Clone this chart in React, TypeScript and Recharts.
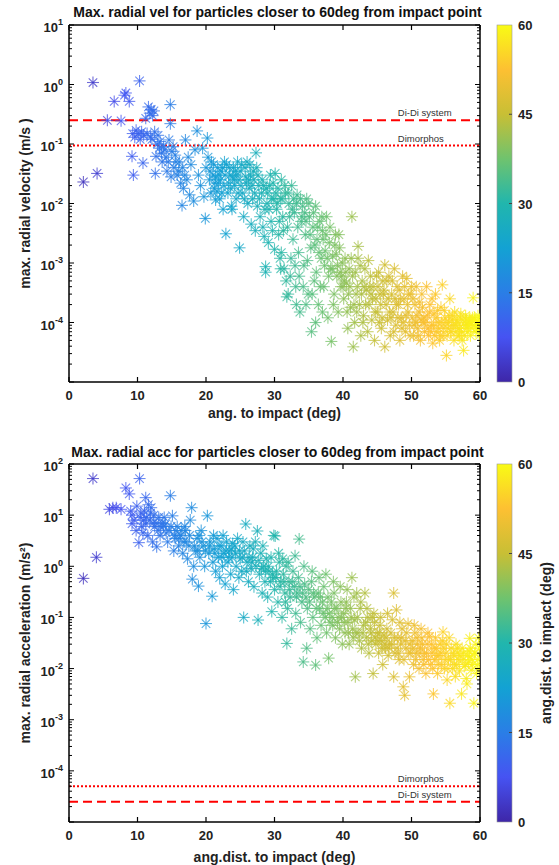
import React from 'react';
import { ScatterChart, Scatter, XAxis, YAxis, ReferenceLine } from 'recharts';

const FONT = '"Liberation Sans", Arial, Helvetica, sans-serif';

// ---------- data ----------
const X_TICKS = [0, 10, 20, 30, 40, 50, 60];
const COLORBAR_TICKS = [0, 15, 30, 45, 60];
const VEL_DECADES = [-5, -4, -3, -2, -1, 0, 1];
const VEL_LABELED = [-4, -3, -2, -1, 0, 1];
const ACC_DECADES = [-5, -4, -3, -2, -1, 0, 1, 2];
const ACC_LABELED = [-4, -3, -2, -1, 0, 1, 2];

const VEL_REFS = [
  { name: 'Di-Di system', value: 0.25, dash: '9 5' },
  { name: 'Dimorphos', value: 0.094, dash: '2 2' },
];
const ACC_REFS = [
  { name: 'Dimorphos', value: 5.0e-5, dash: '2 2' },
  { name: 'Di-Di system', value: 2.5e-5, dash: '9 5' },
];

const VEL_DATA: [number, number][] = [
  [2.1, 0.023], [3.5, 1.08], [4.1, 0.032], [5.6, 0.25], [6.6, 0.52], [7.6, 0.245], [8.1, 0.66], [8.3, 0.72], [8.8, 0.52], [9.2, 0.062], [9.4, 0.03], [9.3, 0.15], [9.6, 0.13], [9.8, 0.17],
  [10.3, 1.15], [10.8, 0.048], [10.1, 0.15], [10.4, 0.12], [10.6, 0.16], [10.9, 0.14], [11.2, 0.27], [11.4, 0.15], [11.6, 0.42], [11.8, 0.33], [12.0, 0.38], [12.2, 0.3], [12.4, 0.36], [11.9, 0.13], [12.1, 0.12], [12.5, 0.16], [12.6, 0.032], [12.7, 0.062], [12.9, 0.1], [13.2, 0.085], [13.0, 0.14], [13.5, 0.07], [13.8, 0.09],
  [14.8, 0.46], [14.8, 0.22], [14.6, 0.117], [14.2, 0.06], [14.5, 0.05], [15.0, 0.075], [15.3, 0.04], [15.6, 0.05], [15.8, 0.03], [16.0, 0.035], [16.3, 0.022], [16.5, 0.0093], [16.7, 0.018], [17.0, 0.117], [17.2, 0.025], [17.4, 0.06], [17.6, 0.014], [17.8, 0.045],
  [18.2, 0.011], [18.4, 0.08], [18.7, 0.166], [18.9, 0.03], [19.2, 0.02], [19.5, 0.085], [19.7, 0.013], [19.9, 0.0056], [20.2, 0.126], [20.0, 0.04],
  [20.5, 0.025], [20.8, 0.05], [21.0, 0.03], [21.2, 0.018], [21.4, 0.028], [21.4, 0.0115], [21.6, 0.016], [21.8, 0.022], [22.0, 0.012], [22.2, 0.035], [22.4, 0.04], [22.6, 0.02], [22.9, 0.0031], [23.0, 0.045], [23.2, 0.015], [23.5, 0.03], [23.8, 0.008], [24.0, 0.04], [24.2, 0.02], [24.4, 0.012], [24.6, 0.05], [24.9, 0.0018], [24.8, 0.025], [25.0, 0.035], [23.7, 0.009], [22.5, 0.008],
  [25.3, 0.015], [25.5, 0.006], [25.7, 0.04], [25.9, 0.022], [26.1, 0.01], [26.3, 0.018], [26.5, 0.03], [26.6, 0.0045], [26.8, 0.012], [27.0, 0.025], [27.3, 0.071], [27.2, 0.0035], [27.5, 0.009], [27.7, 0.02], [27.9, 0.006], [28.1, 0.015], [28.3, 0.004], [28.5, 0.0028], [28.7, 8.7e-4], [28.7, 7e-4], [28.9, 0.01], [29.1, 0.0022], [29.3, 0.02], [29.5, 0.005], [29.7, 0.0035], [29.9, 0.012], [30.1, 0.032], [30.0, 0.0017],
  [30.3, 0.008], [30.5, 0.018], [30.6, 0.003], [30.8, 0.0012], [31.0, 0.025], [31.2, 0.006], [31.4, 0.0008], [31.6, 0.015], [31.8, 2.7e-4], [31.9, 0.004], [32.1, 0.01], [32.3, 0.0006], [32.5, 0.02], [32.7, 0.0025], [32.9, 0.007], [33.1, 0.0004], [33.3, 0.014], [33.5, 0.0015], [33.7, 1.5e-4], [33.9, 0.005], [34.1, 0.009], [34.3, 0.0009], [34.5, 0.003], [34.7, 0.012], [34.9, 3e-4],
  [35.1, 0.006], [35.3, 0.0018], [35.4, 7e-5], [35.6, 0.004], [35.8, 0.0005], [36.0, 0.009], [36.2, 0.0025], [36.4, 2e-4], [36.6, 0.005], [36.8, 0.0012], [37.0, 0.0035], [37.2, 4e-4], [37.4, 0.0016], [37.6, 0.006], [37.8, 1.2e-4], [38.0, 0.0022], [38.3, 4.8e-5], [38.2, 8e-4], [38.5, 0.0013], [38.7, 3e-4], [38.9, 0.003], [39.1, 6e-4], [39.3, 1.5e-4], [39.5, 0.0018], [39.7, 4e-4], [39.9, 0.001],
  [40.1, 2.5e-4], [40.3, 0.0012], [40.5, 4.6e-4], [40.7, 8e-5], [40.9, 0.0008], [41.1, 1.8e-4], [41.3, 0.006], [41.5, 3.9e-5], [41.4, 6e-4], [41.7, 1e-4], [41.9, 3e-4], [42.2, 0.0019], [42.2, 0.0012], [42.4, 2e-4], [42.6, 6e-5], [42.8, 5e-4], [43.0, 1.3e-4], [43.2, 8e-4], [43.4, 3.5e-4], [43.6, 7e-5], [43.8, 2e-4], [44.0, 6e-4], [44.2, 1.1e-4], [44.4, 4e-4], [44.6, 5e-5], [44.8, 2.5e-4],
  [45.0, 1.5e-4], [45.2, 7e-4], [45.4, 3e-4], [45.6, 8e-5], [45.8, 5e-4], [46.1, 9.3e-4], [46.1, 3.9e-5], [46.3, 2e-4], [46.5, 1.1e-4], [46.7, 6e-4], [46.9, 6e-5], [47.1, 3e-4], [47.3, 1.5e-4], [47.5, 8e-4], [47.7, 9e-5], [47.9, 4e-4], [48.1, 2e-4], [48.3, 5e-5], [48.5, 1.2e-4], [48.7, 6e-4], [48.9, 2.5e-4], [49.1, 7e-5], [49.3, 5.5e-4], [49.5, 1.5e-4], [49.7, 9e-5], [49.9, 3e-4],
  [50.1, 1.2e-4], [50.3, 6e-5], [50.5, 2e-4], [50.7, 4e-4], [50.9, 8e-5], [51.1, 1.5e-4], [51.3, 5e-5], [51.5, 3e-4], [51.7, 1e-4], [51.9, 7e-5], [52.2, 4e-4], [52.3, 1.3e-4], [52.5, 6e-5], [52.7, 2e-4], [52.9, 9e-5], [53.1, 4.5e-5], [53.3, 1.4e-4], [53.5, 3e-4], [53.7, 7e-5], [53.9, 1e-4], [54.1, 5e-5], [54.3, 1.8e-4], [54.5, 4.3e-4], [54.7, 8e-5], [54.9, 1.2e-4],
  [55.1, 2.8e-5], [55.2, 6e-5], [55.4, 1e-4], [55.6, 2.5e-4], [55.8, 7e-5], [56.0, 1.3e-4], [56.2, 5e-5], [56.4, 9e-5], [56.6, 1.1e-4], [56.8, 6e-5], [57.0, 8e-5], [57.2, 1.4e-4], [57.4, 5e-5], [57.6, 3.4e-5], [57.8, 9e-5], [58.0, 1.1e-4], [58.2, 7e-5], [58.4, 1e-4], [58.6, 6e-5], [58.8, 8e-5], [59.0, 2.6e-4], [59.2, 1.2e-4], [59.4, 7e-5], [59.6, 9e-5], [59.8, 1e-4], [59.9, 6e-5],
  [13.3, 0.11], [13.6, 0.05], [14.0, 0.08], [14.3, 0.035], [14.9, 0.028], [15.2, 0.09], [15.5, 0.065], [16.1, 0.05], [16.6, 0.04], [16.9, 0.03],
  [20.3, 0.06], [20.7, 0.015], [21.1, 0.045], [21.7, 0.04], [22.1, 0.025], [22.7, 0.05], [23.3, 0.022], [23.9, 0.028], [24.3, 0.035], [24.7, 0.015], [25.2, 0.045], [25.8, 0.028], [26.4, 0.045], [26.9, 0.035], [27.6, 0.03], [28.2, 0.025], [28.8, 0.018], [29.4, 0.03], [29.8, 0.022], [26.0, 0.05],
  [30.2, 0.015], [30.9, 0.012], [31.5, 0.02], [32.0, 0.015], [32.6, 0.008], [33.2, 0.01], [33.8, 0.012], [34.4, 0.007], [35.0, 0.01], [35.7, 0.007], [36.3, 0.004], [36.9, 0.006], [37.5, 0.003], [38.1, 0.004], [38.8, 0.002], [39.4, 0.003],
  [31.0, 0.0015], [31.7, 0.0005], [32.4, 0.0012], [33.0, 0.0009], [33.6, 0.0006], [34.2, 0.0004], [34.8, 0.0011], [35.5, 0.0003], [36.1, 0.0007], [36.7, 0.0004], [37.3, 0.0009], [37.9, 0.0006], [38.6, 0.0002], [39.2, 0.0009], [39.8, 0.0006],
  [40.2, 5e-4], [40.8, 3e-4], [41.2, 0.0012], [41.8, 7e-4], [42.0, 1.5e-4], [42.5, 9e-4], [43.1, 4e-4], [43.7, 1.1e-3], [44.3, 2.5e-4], [44.9, 6e-4], [45.3, 1e-4], [45.9, 3e-4], [46.4, 5e-4], [47.0, 1.2e-4], [47.6, 2.5e-4], [48.2, 3.5e-4], [48.8, 1e-4], [49.4, 2e-4], [50.0, 4e-4], [50.6, 1e-4], [51.2, 2.2e-4], [51.8, 1.2e-4], [52.4, 8e-5], [53.0, 2.5e-4], [53.6, 1.2e-4], [54.2, 6e-5], [54.8, 1.6e-4], [55.3, 8e-5], [55.9, 1.1e-4], [56.5, 7e-5], [57.1, 1.2e-4], [57.7, 6e-5], [58.3, 9e-5], [58.9, 1.2e-4], [59.5, 8e-5], [59.95, 1.1e-4], [56.3, 1.5e-4], [57.9, 1.3e-4],
  [20.6, 0.035], [21.3, 0.022], [21.9, 0.03], [22.3, 0.015], [22.8, 0.03], [23.4, 0.04], [23.6, 0.018], [24.1, 0.025], [24.5, 0.03], [25.1, 0.02], [25.6, 0.012], [26.2, 0.025], [26.7, 0.02], [27.1, 0.015], [27.4, 0.04], [27.8, 0.012], [28.4, 0.02], [28.6, 0.008], [29.0, 0.015], [29.2, 0.008], [29.6, 0.012],
  [30.4, 0.01], [30.7, 0.005], [31.1, 0.012], [31.3, 0.0035], [32.2, 0.006], [32.8, 0.012], [33.4, 0.004], [34.0, 0.006], [34.6, 0.005], [35.2, 0.003], [35.9, 0.002], [36.5, 0.0015], [37.1, 0.0025], [37.7, 0.0012], [38.4, 0.0008], [39.0, 0.0014], [39.6, 0.0007], [30.9, 0.0008], [32.0, 0.0003], [33.2, 0.0002], [34.6, 0.0002], [36.0, 1e-4], [37.0, 1.5e-4],
  [40.0, 4e-4], [40.4, 7e-4], [40.6, 1.5e-4], [41.0, 4e-4], [41.6, 2e-4], [42.1, 4e-4], [42.7, 3e-4], [42.9, 1e-4], [43.3, 2e-4], [43.9, 4e-4], [44.1, 3e-4], [44.7, 1.5e-4], [45.1, 4e-4], [45.5, 2e-4], [45.7, 1.2e-4], [46.0, 3.5e-4], [46.6, 2.5e-4], [46.8, 1.5e-4], [47.2, 5e-4], [47.4, 7e-5], [47.8, 2e-4], [48.0, 1.2e-4], [48.4, 2.5e-4], [48.6, 8e-5], [49.0, 4e-4], [49.2, 1.3e-4], [49.6, 3e-4], [49.8, 6e-5],
  [50.2, 2.5e-4], [50.4, 9e-5], [50.8, 1.3e-4], [51.0, 6e-5], [51.4, 1.1e-4], [51.6, 1.8e-4], [52.0, 1e-4], [52.6, 1.5e-4], [52.8, 7e-5], [53.2, 9e-5], [53.4, 6e-5], [53.8, 1.6e-4], [54.0, 8e-5], [54.4, 1e-4], [54.6, 6e-5], [55.0, 1e-4], [55.5, 1.3e-4], [55.7, 7e-5], [56.1, 9e-5], [56.7, 1e-4], [56.9, 8e-5], [57.3, 7e-5], [57.5, 1.1e-4], [58.1, 8e-5], [58.5, 1.2e-4], [58.7, 1e-4], [59.1, 9e-5], [59.3, 1.1e-4], [59.7, 1.3e-4], [59.85, 8e-5], [57.0, 6e-5], [58.0, 9.5e-5],
];

const ACC_DATA: [number, number][] = [
  [2.1, 0.58], [3.5, 52], [4.0, 1.5], [5.9, 13], [6.4, 14], [6.9, 14], [7.6, 13], [8.3, 34], [8.8, 26], [9.0, 12], [9.2, 10], [9.2, 6.8], [9.5, 8], [9.8, 5], [9.9, 15],
  [10.2, 2.9], [10.3, 52], [10.4, 9], [10.6, 6], [10.8, 4.5], [11.0, 12], [11.2, 22], [11.2, 6.7], [11.5, 4], [11.6, 16], [11.8, 8], [12.0, 14], [12.2, 3], [12.4, 10], [12.5, 6], [12.8, 2.4], [13.0, 5], [13.3, 4], [13.6, 7], [13.8, 6], [14.1, 6.7], [14.4, 3], [14.8, 24], [14.6, 5],
  [15.1, 9.7], [15.3, 2], [15.5, 3.5], [15.8, 6], [16.0, 2.5], [16.3, 4], [16.6, 1.8], [16.8, 3], [17.0, 5], [17.3, 1.4], [17.5, 2.5], [17.9, 14], [17.7, 8], [18.0, 0.56], [18.2, 1], [18.5, 2], [18.7, 3.5], [18.9, 0.41], [19.1, 1.5], [19.3, 5], [19.6, 2.5], [19.8, 1], [20.0, 0.076], [20.2, 9.7],
  [20.4, 1.8], [20.6, 3], [20.9, 0.26], [21.0, 1.2], [21.2, 2.2], [21.4, 0.8], [21.6, 3.5], [21.8, 1.5], [22.0, 0.6], [22.2, 2.5], [22.4, 1], [22.6, 1.8], [22.8, 0.45], [23.0, 3], [23.2, 1.2], [23.4, 2], [23.6, 0.7], [23.8, 1.5], [24.0, 0.35], [24.2, 2.5], [24.4, 1], [24.6, 3.5], [24.8, 0.6], [25.0, 1.4],
  [25.2, 0.8], [25.5, 0.1], [25.8, 6.7], [25.6, 2], [26.0, 1.2], [26.2, 0.5], [26.4, 2.5], [26.6, 0.9], [26.8, 1.5], [27.0, 0.4], [27.2, 3], [27.5, 4.9], [27.6, 0.089], [27.8, 0.7], [28.0, 1.8], [28.2, 0.3], [28.4, 1], [28.6, 0.5], [28.8, 1.4], [29.0, 0.25], [29.2, 0.8], [29.4, 0.5], [29.6, 0.13], [29.9, 4.0], [29.8, 0.6], [30.0, 0.35],
  [30.1, 3.9], [30.3, 0.8], [30.5, 0.2], [30.7, 1.2], [30.9, 0.5], [31.1, 0.1], [31.3, 0.7], [31.5, 0.3], [31.8, 0.031], [31.7, 1], [31.9, 0.15], [32.1, 0.5], [32.3, 0.25], [32.5, 0.06], [32.7, 0.8], [32.9, 0.4], [33.1, 0.12], [33.3, 0.3], [33.6, 3.4], [33.5, 0.6], [33.8, 0.08], [34.0, 0.2], [34.2, 0.0135], [34.4, 0.45], [34.7, 0.025], [34.8, 0.15],
  [35.0, 0.35], [35.2, 0.06], [35.4, 0.5], [35.6, 0.1], [35.8, 0.25], [36.0, 0.0117], [36.2, 0.04], [36.4, 0.3], [36.6, 0.15], [36.8, 0.07], [37.0, 0.2], [37.2, 0.4], [37.4, 0.1], [37.6, 0.05], [37.9, 0.016], [37.8, 0.25], [38.0, 0.12], [38.3, 0.2], [38.5, 0.07], [38.7, 0.3], [38.9, 0.04], [39.1, 0.15], [39.3, 0.1], [39.5, 0.06], [39.7, 0.2], [39.9, 0.03],
  [40.1, 0.12], [40.3, 0.05], [40.5, 0.2], [40.7, 0.08], [40.9, 0.03], [41.1, 0.15], [41.3, 0.6], [41.5, 0.04], [41.8, 0.0069], [41.7, 0.09], [42.0, 0.3], [42.2, 0.05], [42.5, 0.15], [42.7, 0.025], [43.0, 0.07], [43.2, 0.3], [43.4, 0.04], [43.6, 0.1], [43.8, 0.02], [44.0, 0.06], [44.2, 0.035], [44.4, 0.008], [44.6, 0.08], [44.8, 0.03],
  [45.0, 0.05], [45.2, 0.02], [45.4, 0.07], [45.6, 0.035], [45.8, 0.012], [46.0, 0.045], [46.2, 0.025], [46.4, 0.06], [46.6, 0.018], [46.8, 0.03], [47.0, 0.05], [47.4, 0.3], [47.4, 0.0069], [47.6, 0.02], [47.8, 0.14], [48.0, 0.04], [48.2, 0.015], [48.4, 0.03], [48.6, 0.06], [48.8, 0.0044], [49.0, 0.003], [49.2, 0.025], [49.5, 0.076], [49.7, 0.0069], [49.9, 0.02],
  [50.1, 0.035], [50.3, 0.012], [50.5, 0.05], [50.7, 0.02], [50.9, 0.03], [51.1, 0.01], [51.3, 0.025], [51.5, 0.04], [51.7, 0.015], [51.9, 0.02], [52.1, 0.008], [52.3, 0.03], [52.6, 0.042], [52.8, 0.012], [53.0, 0.02], [53.2, 0.0032], [53.4, 0.015], [53.6, 0.025], [53.8, 0.008], [54.0, 0.018], [54.2, 0.03], [54.4, 0.012], [54.6, 0.052], [54.8, 0.01],
  [55.0, 0.02], [55.2, 0.006], [55.4, 0.015], [55.6, 0.0021], [55.8, 0.025], [56.0, 0.01], [56.2, 0.018], [56.4, 0.007], [56.6, 0.012], [56.8, 0.02], [57.0, 0.009], [57.3, 0.0032], [57.5, 0.015], [57.7, 0.011], [58.0, 0.0064], [58.1, 0.005], [58.3, 0.013], [58.5, 0.039], [58.5, 0.017], [58.7, 0.0093], [58.9, 0.012], [59.1, 0.0021], [59.3, 0.02], [59.5, 0.008], [59.7, 0.015], [59.9, 0.01],
  [10.9, 8], [12.7, 7], [13.9, 9], [15.6, 5], [16.9, 6], [19.0, 4], [21.1, 4], [22.5, 4], [23.9, 2.8], [25.4, 3], [26.9, 2.2], [28.3, 2.5], [29.5, 1.5], [30.6, 1.8], [31.2, 1.4], [32.0, 1.2], [33.0, 1.6], [34.3, 1], [35.5, 0.8], [36.5, 0.6], [37.5, 0.7], [38.6, 0.5], [39.6, 0.4], [40.6, 0.35], [41.6, 0.25], [42.6, 0.2], [43.5, 0.15], [44.5, 0.12], [45.5, 0.1], [46.5, 0.12], [47.2, 0.09], [48.3, 0.08], [49.3, 0.05], [50.4, 0.07], [51.4, 0.06], [52.4, 0.05], [53.5, 0.04], [54.5, 0.035], [55.5, 0.04], [56.5, 0.03], [57.4, 0.025], [58.4, 0.022], [59.4, 0.03], [59.8, 0.04],
  [10.5, 11], [11.3, 9], [11.9, 11], [12.3, 7], [13.1, 9], [13.4, 6], [14.2, 4.5], [14.9, 6], [15.4, 4], [16.1, 3.5], [16.4, 5], [17.1, 3], [17.6, 4], [18.3, 2.5], [18.8, 2], [19.4, 3], [19.9, 2],
  [20.5, 2.5], [21.3, 1.8], [21.9, 2.5], [22.3, 1.5], [22.9, 2], [23.3, 1.5], [23.7, 2.2], [24.3, 1.8], [24.9, 2], [25.3, 1.5], [25.9, 0.8], [26.3, 1.5], [26.7, 1.2], [27.3, 1], [27.7, 1.3], [28.1, 0.9], [28.7, 0.8], [29.1, 1], [29.7, 0.7],
  [30.2, 0.6], [30.8, 0.4], [31.4, 0.5], [31.6, 0.2], [32.2, 0.35], [32.6, 0.5], [33.2, 0.25], [33.7, 0.4], [34.1, 0.3], [34.6, 0.25], [35.1, 0.2], [35.7, 0.3], [36.1, 0.15], [36.7, 0.25], [37.1, 0.12], [37.7, 0.15], [38.1, 0.08], [38.4, 0.1], [38.8, 0.15], [39.2, 0.08], [39.8, 0.1],
  [40.2, 0.08], [40.4, 0.15], [40.8, 0.05], [41.2, 0.1], [41.4, 0.06], [41.9, 0.05], [42.1, 0.1], [42.4, 0.035], [42.9, 0.05], [43.3, 0.08], [43.7, 0.03], [44.1, 0.05], [44.3, 0.1], [44.7, 0.04], [45.1, 0.035], [45.3, 0.05], [45.7, 0.025], [46.1, 0.03], [46.3, 0.04], [46.7, 0.025], [47.1, 0.03], [47.5, 0.04], [47.9, 0.025], [48.1, 0.02], [48.5, 0.04], [48.9, 0.015], [49.1, 0.035], [49.6, 0.02], [49.8, 0.03],
  [50.2, 0.025], [50.6, 0.015], [50.8, 0.04], [51.2, 0.02], [51.6, 0.03], [51.8, 0.012], [52.2, 0.02], [52.5, 0.015], [52.9, 0.03], [53.1, 0.01], [53.3, 0.025], [53.7, 0.018], [53.9, 0.012], [54.3, 0.02], [54.7, 0.025], [54.9, 0.015], [55.1, 0.03], [55.3, 0.01], [55.7, 0.015], [56.1, 0.02], [56.3, 0.012], [56.7, 0.025], [56.9, 0.015], [57.1, 0.018], [57.6, 0.02], [57.9, 0.012], [58.2, 0.018], [58.6, 0.025], [58.8, 0.015], [59.2, 0.02], [59.6, 0.012], [59.9, 0.025],
];

// ---------- colormap (parula-like) ----------
const PARULA_STOPS: [number, string][] = [
  [0, '#3e26a8'], [0.125, '#4653f2'], [0.25, '#2a7ee6'], [0.375, '#13a2d3'],
  [0.5, '#21b6ad'], [0.625, '#6fc36e'], [0.75, '#c8bf35'], [0.875, '#fdc032'], [1, '#f9fb15'],
];
const hex = (h: string) => [1, 3, 5].map((i) => parseInt(h.slice(i, i + 2), 16));
function parula(t: number): string {
  const v = Math.max(0, Math.min(1, t));
  for (let i = 0; i < PARULA_STOPS.length - 1; i++) {
    const [a, ca] = PARULA_STOPS[i];
    const [b, cb] = PARULA_STOPS[i + 1];
    if (v <= b) {
      const f = (v - a) / (b - a);
      const A = hex(ca), B = hex(cb);
      const c = A.map((x, k) => Math.round(x + (B[k] - x) * f));
      return `rgb(${c[0]},${c[1]},${c[2]})`;
    }
  }
  return PARULA_STOPS[PARULA_STOPS.length - 1][1];
}

const logTicks = (decades: number[]) => {
  const out: number[] = [];
  decades.forEach((d, i) => {
    out.push(Math.pow(10, d));
    if (i < decades.length - 1) for (let m = 2; m <= 9; m++) out.push(m * Math.pow(10, d));
  });
  return out;
};
const isMajor = (v: number) => {
  const e = Math.log10(v);
  return Math.abs(e - Math.round(e)) < 1e-6;
};

const Asterisk = (props: any) => {
  const { cx, cy, payload } = props;
  if (cx == null || cy == null || !payload) return null;
  const c = parula(payload.x / 60);
  const r = 6;
  const d = r * 0.7071;
  return (
    <g stroke={c} strokeWidth={1.1} strokeOpacity={0.75} fill="none">
      <line x1={cx - r} y1={cy} x2={cx + r} y2={cy} />
      <line x1={cx} y1={cy - r} x2={cx} y2={cy + r} />
      <line x1={cx - d} y1={cy - d} x2={cx + d} y2={cy + d} />
      <line x1={cx - d} y1={cy + d} x2={cx + d} y2={cy - d} />
    </g>
  );
};

const makeLeftTick = (labeled: number[]) => (props: any) => {
  const { x, y, payload } = props;
  const v = payload.value;
  const major = isMajor(v);
  const e = Math.round(Math.log10(v));
  const ax = x + 6;
  return (
    <g>
      <line x1={ax} x2={ax + (major ? 5 : 3)} y1={y} y2={y} stroke="#000" strokeWidth={1} />
      {major && labeled.includes(e) && (
        <text x={x} y={y + 7} textAnchor="end" fontFamily={FONT} fontWeight="bold" fontSize={13} fill="#222">
          <tspan>10</tspan>
          <tspan dy={-7} fontSize={9}>{String(e)}</tspan>
        </text>
      )}
    </g>
  );
};

const RightTick = (props: any) => {
  const { x, y, payload } = props;
  const major = isMajor(payload.value);
  return <line x1={x} x2={x - (major ? 5 : 3)} y1={y} y2={y} stroke="#000" strokeWidth={1} />;
};

const BottomTick = (props: any) => {
  const { x, y, payload } = props;
  return (
    <g>
      <line x1={x} x2={x} y1={y} y2={y - 5} stroke="#000" strokeWidth={1.2} />
      <text x={x} y={y + 18} textAnchor="middle" fontFamily={FONT} fontWeight="bold" fontSize={13} fill="#222">
        {payload.value}
      </text>
    </g>
  );
};

const TopTick = (props: any) => {
  const { x, y } = props;
  return <line x1={x} x2={x} y1={y} y2={y + 5} stroke="#000" strokeWidth={1.2} />;
};

type PanelProps = {
  data: [number, number][];
  decades: number[];
  labeled: number[];
  refs: { name: string; value: number; dash: string }[];
  height: number;
  plotTop: number;
  plotBottom: number;
  title: string;
  titleY: number;
  xLabel: string;
  xLabelY: number;
  yLabel: string;
  cbLabel?: string;
};

const PLOT_LEFT = 69;
const PLOT_RIGHT = 480;
const CB_X = 497;
const CB_W = 15;

function Panel(p: PanelProps) {
  const pts = p.data.map(([x, y]) => ({ x, y }));
  const ticks = logTicks(p.decades);
  const domain = [Math.pow(10, p.decades[0]), Math.pow(10, p.decades[p.decades.length - 1])];
  const midY = (p.plotTop + p.plotBottom) / 2;
  const gid = 'cb' + p.title.length;
  return (
    <div style={{ position: 'relative', width: 559, height: p.height }}>
      <ScatterChart
        width={559}
        height={p.height}
        margin={{ top: p.plotTop - 10, right: 559 - PLOT_RIGHT - 10, bottom: p.height - p.plotBottom - 40, left: PLOT_LEFT - 60 }}
      >
        <XAxis xAxisId="B" dataKey="x" type="number" domain={[0, 60]} ticks={X_TICKS} interval={0}
          height={40} tickSize={0} tickMargin={0} tickLine={false} tick={BottomTick}
          axisLine={{ stroke: '#000', strokeWidth: 1.5 }} allowDataOverflow />
        <XAxis xAxisId="T" dataKey="x" type="number" orientation="top" domain={[0, 60]} ticks={X_TICKS} interval={0}
          height={10} tickSize={0} tickMargin={0} tickLine={false} tick={TopTick}
          axisLine={{ stroke: '#000', strokeWidth: 1.5 }} allowDataOverflow />
        <YAxis yAxisId="L" dataKey="y" type="number" scale="log" domain={domain} ticks={ticks} interval={0}
          width={60} tickSize={0} tickMargin={6} tickLine={false} tick={makeLeftTick(p.labeled)}
          axisLine={{ stroke: '#000', strokeWidth: 1.5 }} allowDataOverflow />
        <YAxis yAxisId="R" dataKey="y" type="number" scale="log" orientation="right" domain={domain} ticks={ticks} interval={0}
          width={10} tickSize={0} tickMargin={0} tickLine={false} tick={RightTick}
          axisLine={{ stroke: '#000', strokeWidth: 1.5 }} allowDataOverflow />
        <Scatter data={pts} xAxisId="B" yAxisId="L" dataKey="y" shape={Asterisk} isAnimationActive={false} />
        {p.refs.map((r) => (
          <ReferenceLine
            key={r.name}
            xAxisId="B"
            yAxisId="L"
            y={r.value}
            stroke="#ff0000"
            strokeWidth={2}
            strokeDasharray={r.dash}
            label={(lp: any) => {
              const vb = lp.viewBox || {};
              return (
                <text x={(vb.x ?? PLOT_LEFT) + (vb.width ?? 411) * 0.8} y={(vb.y ?? 0) - 4}
                  fontFamily={FONT} fontSize={9.5} fill="#333">{r.name}</text>
              );
            }}
          />
        ))}
      </ScatterChart>
      <svg width={559} height={p.height} style={{ position: 'absolute', left: 0, top: 0, pointerEvents: 'none' }}>
        <defs>
          <linearGradient id={gid} x1="0" y1="1" x2="0" y2="0">
            {PARULA_STOPS.map(([o, c]) => (
              <stop key={o} offset={`${o * 100}%`} stopColor={c} />
            ))}
          </linearGradient>
        </defs>
        <text x={(PLOT_LEFT + PLOT_RIGHT) / 2 + 3} y={p.titleY} textAnchor="middle" fontFamily={FONT} fontWeight="bold" fontSize={14} fill="#111">
          {p.title}
        </text>
        <text x={(PLOT_LEFT + PLOT_RIGHT) / 2} y={p.xLabelY} textAnchor="middle" fontFamily={FONT} fontWeight="bold" fontSize={14} fill="#222">
          {p.xLabel}
        </text>
        <text x={30} y={midY} transform={`rotate(-90, 30, ${midY})`} textAnchor="middle" fontFamily={FONT} fontWeight="bold" fontSize={14} fill="#222">
          {p.yLabel}
        </text>
        <rect x={CB_X} y={p.plotTop} width={CB_W} height={p.plotBottom - p.plotTop} fill={`url(#${gid})`} stroke="#999" strokeWidth={0.6} />
        {COLORBAR_TICKS.map((t) => {
          const ty = p.plotBottom - (t / 60) * (p.plotBottom - p.plotTop);
          return (
            <g key={t}>
              {t > 0 && t < 60 && <line x1={CB_X + CB_W} x2={CB_X + CB_W - 3} y1={ty} y2={ty} stroke="#444" strokeWidth={1} />}
              <text x={CB_X + CB_W + 6} y={ty + 5} fontFamily={FONT} fontWeight="bold" fontSize={13} fill="#222">{t}</text>
            </g>
          );
        })}
        {p.cbLabel && (
          <text x={551} y={midY} transform={`rotate(-90, 551, ${midY})`} textAnchor="middle" fontFamily={FONT} fontWeight="bold" fontSize={14} fill="#222">
            {p.cbLabel}
          </text>
        )}
      </svg>
    </div>
  );
}

export default function App() {
  return (
    <div style={{ position: 'absolute', left: 0, top: 0, width: 559, height: 865, background: '#fff' }}>
      <Panel
        data={VEL_DATA}
        decades={VEL_DECADES}
        labeled={VEL_LABELED}
        refs={VEL_REFS}
        height={430}
        plotTop={25}
        plotBottom={382}
        title="Max. radial vel for particles closer to 60deg from impact point"
        titleY={17}
        xLabel="ang. to impact (deg)"
        xLabelY={418}
        yLabel="max. radial velocity (m/s )"
      />
      <Panel
        data={ACC_DATA}
        decades={ACC_DECADES}
        labeled={ACC_LABELED}
        refs={ACC_REFS}
        height={435}
        plotTop={34}
        plotBottom={392}
        title="Max. radial acc for particles closer to 60deg from impact point"
        titleY={27}
        xLabel="ang.dist. to impact (deg)"
        xLabelY={432}
        yLabel="max. radial acceleration (m/s²)"
        cbLabel="ang.dist. to impact (deg)"
      />
    </div>
  );
}
